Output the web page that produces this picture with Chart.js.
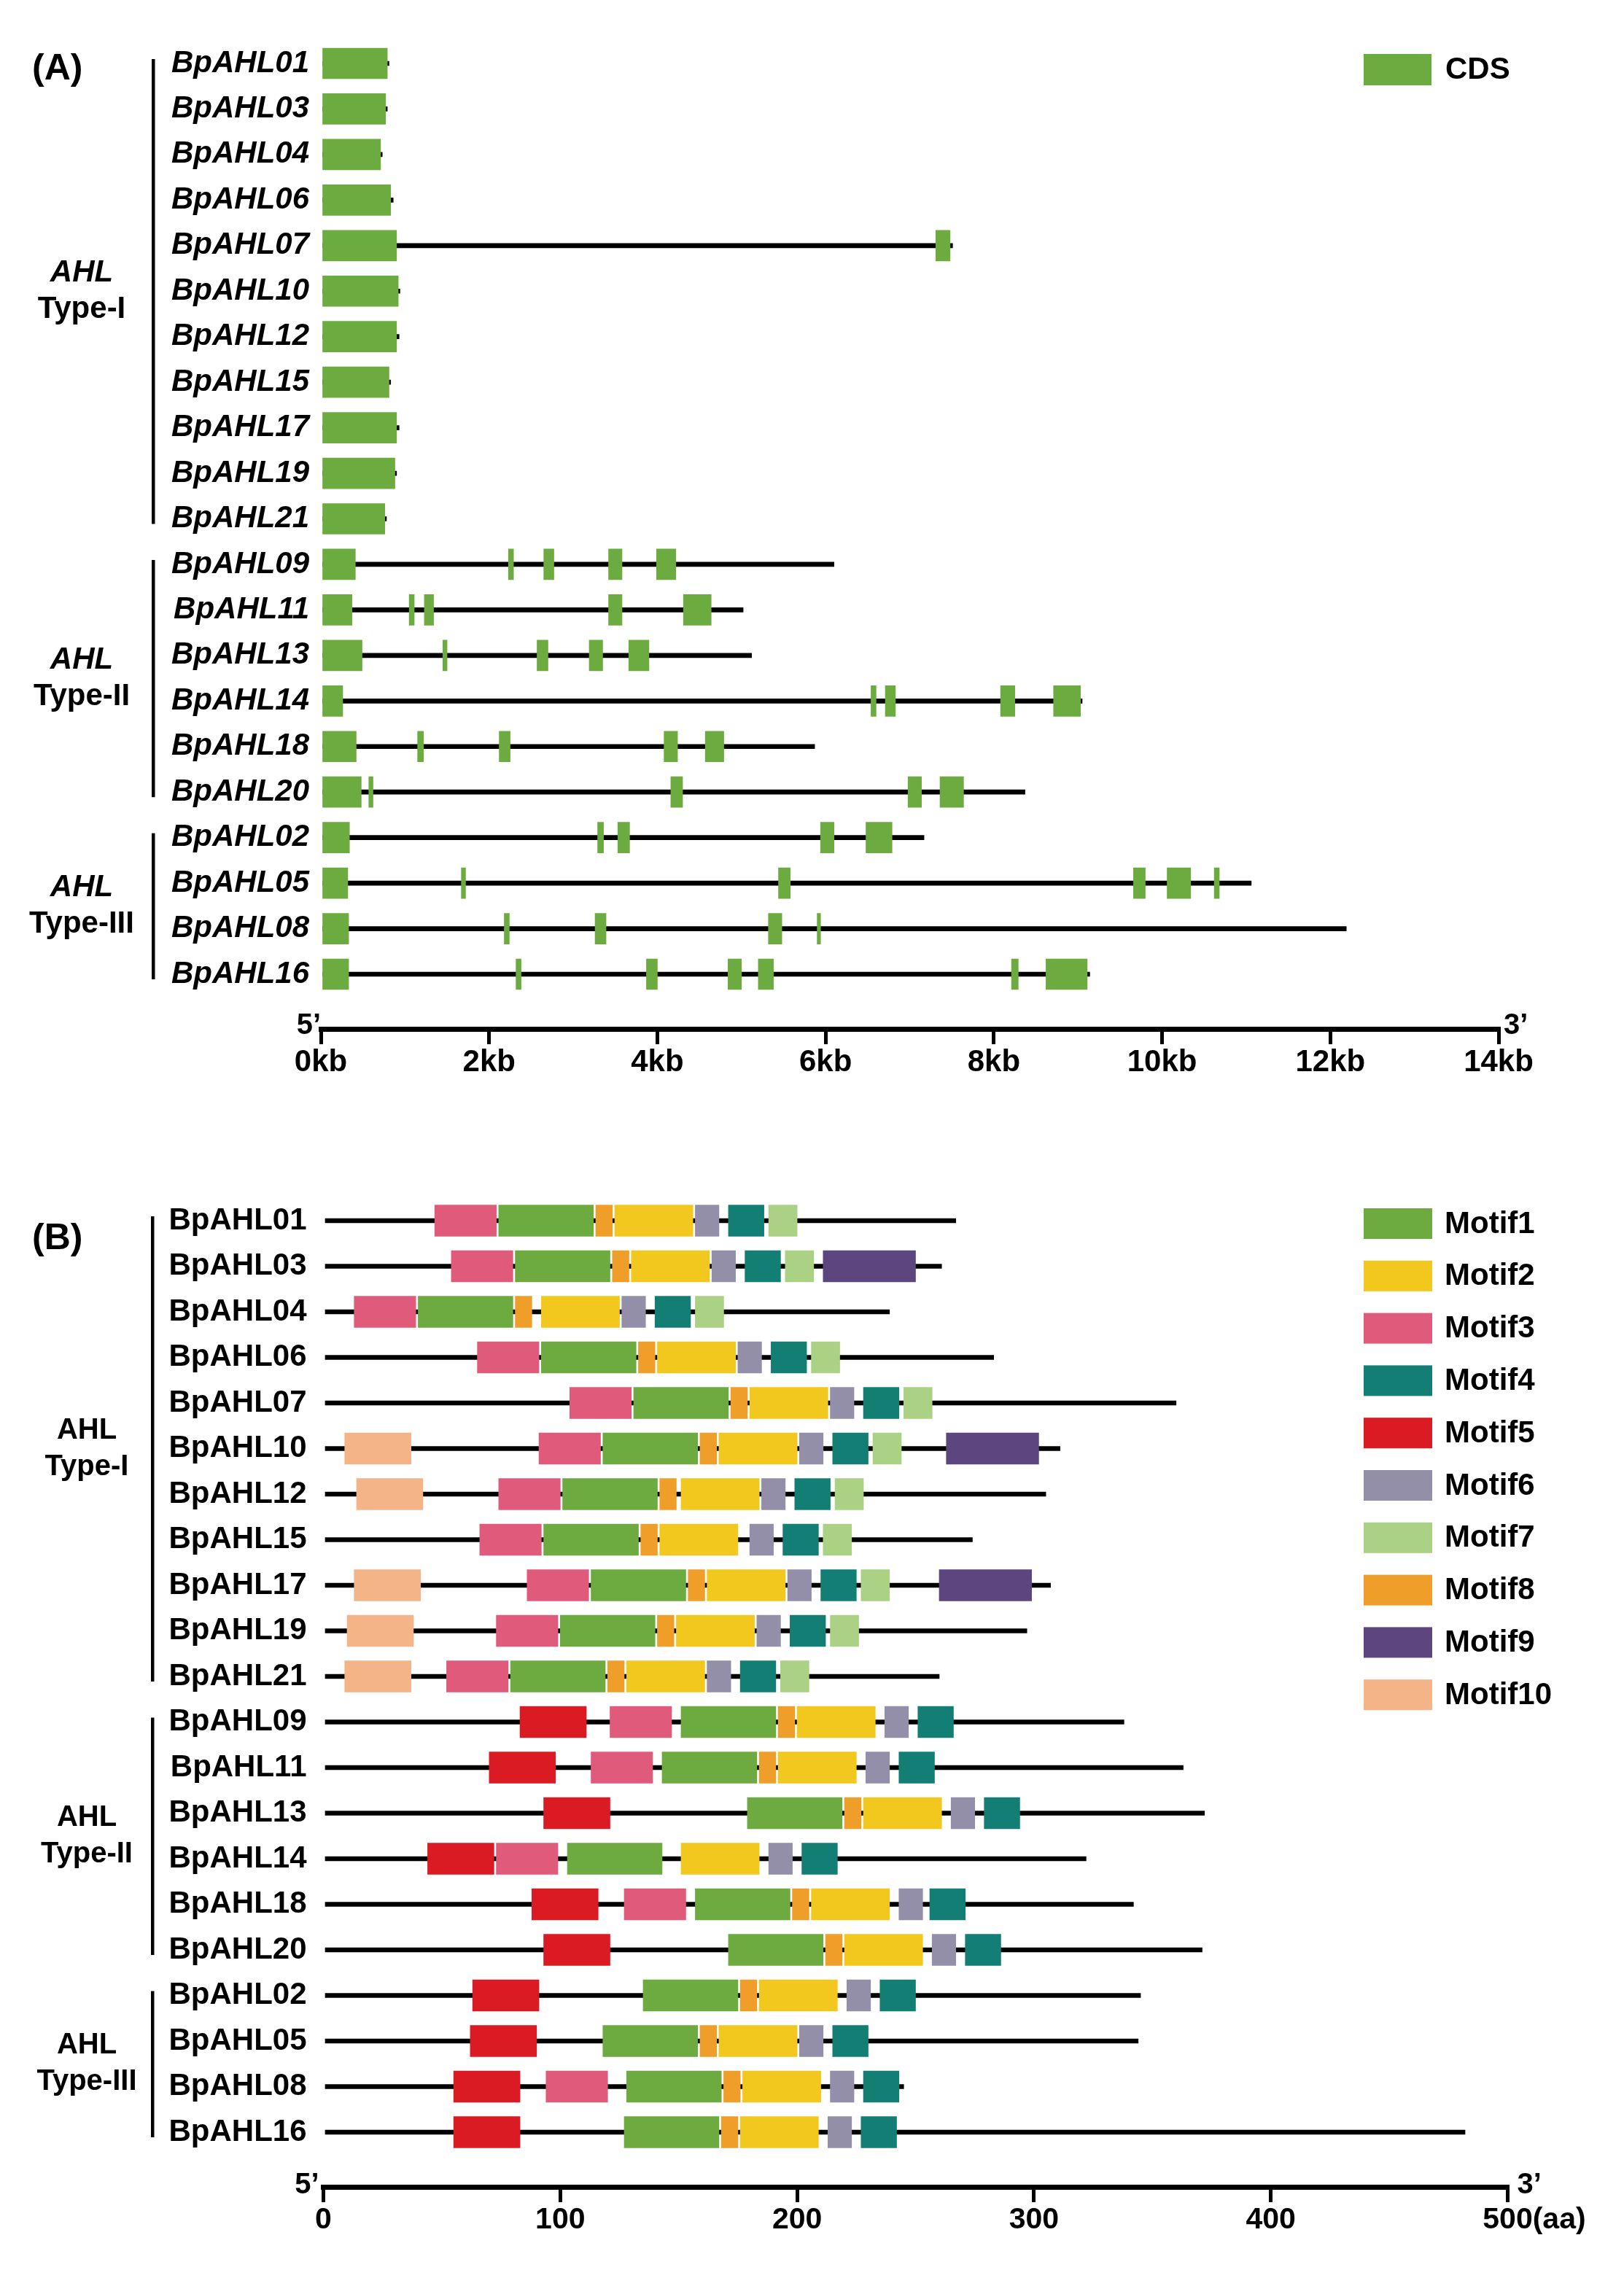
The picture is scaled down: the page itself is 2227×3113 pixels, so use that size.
<!DOCTYPE html>
<html>
<head>
<meta charset="utf-8">
<script src="https://cdn.jsdelivr.net/npm/chart.js@4.4.0/dist/chart.umd.min.js"></script>
<style>
  html, body { margin: 0; padding: 0; background: #fff; }
  body { width: 2227px; height: 3113px; position: relative; overflow: hidden; }
  canvas { position: absolute; left: 0; }
  #chartA { top: 0; }
  #chartB { top: 1540px; }
</style>
</head>
<body>
<canvas id="chartA" width="2227" height="1540" style="width:2227px;height:1540px"></canvas>
<canvas id="chartB" width="2227" height="1573" style="width:2227px;height:1573px"></canvas>
<script>
// genes, same order in both panels
const genes = ["BpAHL01", "BpAHL03", "BpAHL04", "BpAHL06", "BpAHL07", "BpAHL10", "BpAHL12", "BpAHL15",
  "BpAHL17", "BpAHL19", "BpAHL21", "BpAHL09", "BpAHL11", "BpAHL13", "BpAHL14", "BpAHL18", "BpAHL20",
  "BpAHL02", "BpAHL05", "BpAHL08", "BpAHL16"];
const groupNames = ["Type-I", "Type-II", "Type-III"];
const groupFirst = [0, 11, 17];
const groupLast = [10, 16, 20];

// (A) gene length and CDS positions (kb)
const geneLenKb = [0.81, 0.79, 0.73, 0.86, 7.51, 0.94, 0.93, 0.83, 0.93, 0.90, 0.78,
  6.10, 5.02, 5.12, 9.05, 5.87, 8.37, 7.17, 11.06, 12.19, 9.14];
const cdsKb = [
  [[0, 0.79]],
  [[0, 0.77]],
  [[0, 0.71]],
  [[0, 0.83]],
  [[0, 0.90], [7.31, 7.48]],
  [[0, 0.92]],
  [[0, 0.90]],
  [[0, 0.81]],
  [[0, 0.90]],
  [[0, 0.88]],
  [[0, 0.76]],
  [[0, 0.41], [2.23, 2.29], [2.65, 2.77], [3.42, 3.58], [3.99, 4.22]],
  [[0, 0.37], [1.05, 1.11], [1.23, 1.34], [3.42, 3.58], [4.31, 4.64]],
  [[0, 0.49], [1.45, 1.50], [2.57, 2.70], [3.19, 3.35], [3.66, 3.90]],
  [[0, 0.26], [6.54, 6.60], [6.71, 6.83], [8.08, 8.25], [8.71, 9.03]],
  [[0, 0.42], [1.15, 1.22], [2.12, 2.25], [4.08, 4.24], [4.57, 4.79]],
  [[0, 0.48], [0.57, 0.62], [4.16, 4.30], [6.98, 7.14], [7.36, 7.64]],
  [[0, 0.34], [3.29, 3.36], [3.53, 3.67], [5.94, 6.10], [6.48, 6.79]],
  [[0, 0.32], [1.67, 1.72], [5.44, 5.58], [9.66, 9.80], [10.06, 10.34], [10.62, 10.68]],
  [[0, 0.33], [2.18, 2.24], [3.26, 3.39], [5.32, 5.48], [5.90, 5.94]],
  [[0, 0.33], [2.32, 2.38], [3.87, 4.00], [4.84, 5.00], [5.20, 5.38], [8.21, 8.29], [8.62, 9.11]]
];
const kbTicks = [0, 2, 4, 6, 8, 10, 12, 14];

// (B) protein length and motif start positions (aa)
const proteinLen = [267, 261, 239, 283, 360, 311, 305, 274, 307, 297, 260,
  338, 363, 372, 322, 342, 371, 345, 344, 245, 482];
const motifNames = ["Motif1", "Motif2", "Motif3", "Motif4", "Motif5", "Motif6", "Motif7", "Motif8", "Motif9", "Motif10"];
const motifWidth = [40, 33, 26, 15, 28, 10, 12, 7, 39, 28];
const motif1Start = [74, 81, 40, 92, 131, 118, 101, 93, 113, 100, 79, 151, 143, 179, 103, 157, 171, 135, 118, 128, 127];
const motif2Start = [123, 130, 92, 141, 180, 167, 151, 142, 162, 149, 128, 200, 192, 228, 151, 206, 220, 184, 167, 177, 176];
const motif3Start = [47, 54, 13, 65, 104, 91, 74, 66, 86, 73, 52, 121, 113, null, 73, 127, null, null, null, 94, null];
const motif4Start = [171, 178, 140, 189, 228, 215, 199, 194, 210, 197, 176, 251, 243, 279, 202, 256, 271, 235, 215, 228, 227];
const motif5Start = [null, null, null, null, null, null, null, null, null, null, null, 83, 70, 93, 44, 88, 93, 63, 62, 55, 55];
const motif6Start = [157, 164, 126, 175, 214, 201, 185, 180, 196, 183, 162, 237, 229, 265, 188, 243, 257, 221, 201, 214, 213];
const motif7Start = [188, 195, 157, 206, 245, 232, 216, 211, 227, 214, 193, null, null, null, null, null, null, null, null, null, null];
const motif8Start = [115, 122, 81, 133, 172, 159, 142, 134, 154, 141, 120, 192, 184, 220, null, 198, 212, 176, 159, 169, 168];
const motif9Start = [null, 211, null, null, null, 263, null, null, 260, null, null, null, null, null, null, null, null, null, null, null, null];
const motif10Start = [null, null, null, null, null, 9, 14, null, 13, 10, 9, null, null, null, null, null, null, null, null, null, null];
const aaTicks = [0, 100, 200, 300, 400, 500];

const motifStarts = [motif1Start, motif2Start, motif3Start, motif4Start, motif5Start,
  motif6Start, motif7Start, motif8Start, motif9Start, motif10Start];
const motifColors = ["#6dab41", "#f2c81e", "#e05b7b", "#137f74", "#db1b24",
  "#938fa9", "#aad184", "#ef9f29", "#5d4580", "#f5b487"];
const cdsColor = "#6cab3f";

const FONT = '"Liberation Sans", Arial, Helvetica, sans-serif';
Chart.defaults.font.family = FONT;
Chart.defaults.color = "#000";

// y scale: linear, one row per gene, row -1 near the top edge
function rowAxis(width, pad, style) {
  return {
    type: "linear", reverse: true, min: -1, max: 21.2, offset: false,
    afterFit: (s) => { s.width = width; s.paddingTop = 0; s.paddingBottom = 0; },
    grid: { display: false, drawTicks: false, offset: false },
    border: { display: false },
    ticks: {
      stepSize: 1, autoSkip: false, padding: pad, color: "#000",
      font: { size: 42, weight: "bold", style: style },
      callback: (v) => (Number.isInteger(v) && genes[v]) ? genes[v] : ""
    }
  };
}

function bottomAxis(max, step, size, labelFn) {
  return {
    type: "linear", min: 0, max: max,
    afterFit: (s) => { s.height = 80; s.paddingLeft = 0; s.paddingRight = 0; },
    grid: { drawOnChartArea: false, drawTicks: true, tickLength: 21, tickWidth: 5, lineWidth: 5, color: "#000", tickColor: "#000" },
    border: { display: true, color: "#000", width: 7 },
    ticks: { stepSize: step, padding: 0, autoSkip: false, maxRotation: 0, color: "#000",
      font: { size: size, weight: "bold" }, callback: labelFn }
  };
}

// nudge padding and row range so rows and the axis sit where the figure has them
function pinChart(chart, row0, step, axisY, x0, x1, xMax) {
  for (let k = 0; k < 4; k++) {
    const pad = chart.options.layout.padding;
    const xs = chart.scales.x;
    pad.bottom += chart.chartArea.bottom - axisY;
    pad.left += x0 - xs.getPixelForValue(0);
    pad.right += xs.getPixelForValue(xMax) - x1;
    chart.update();
    const ys = chart.scales.y;
    const yo = chart.options.scales.y;
    const p0 = ys.getPixelForValue(0);
    const b = (ys.getPixelForValue(20) - p0) / 20;
    const range = yo.max - yo.min;
    const s = p0 + yo.min * b;
    const newRange = b * range / step;
    yo.min = (s - row0) / step;
    yo.max = yo.min + newRange;
    chart.update();
  }
}

function drawGroups(ctx, y, bracketX, labelX, italic, size) {
  for (let g = 0; g < groupNames.length; g++) {
    const y1 = y.getPixelForValue(groupFirst[g]);
    const y2 = y.getPixelForValue(groupLast[g]);
    ctx.fillRect(bracketX, y1 - 6, 4.5, y2 - y1 + 13);
    const mid = (y1 + y2) / 2;
    ctx.textAlign = "center";
    ctx.font = (italic ? "italic " : "") + "bold " + size + "px " + FONT;
    ctx.fillText("AHL", labelX, mid - 25);
    ctx.font = "bold " + size + "px " + FONT;
    ctx.fillText(groupNames[g], labelX, mid + 25);
  }
}

// ---------- (A) gene structure ----------
const cdsData = [];
cdsKb.forEach((list, i) => list.forEach((e) => cdsData.push({ x: e, y: i })));
const geneLineData = geneLenKb.map((len, i) => ({ x: [0, len], y: i }));

const decorA = {
  id: "decorA",
  afterDraw(chart) {
    const { ctx, chartArea: ca, scales: { y } } = chart;
    ctx.save();
    ctx.fillStyle = "#000";
    ctx.textBaseline = "middle";
    ctx.textAlign = "left";
    ctx.font = "bold 50px " + FONT;
    ctx.fillText("(A)", 44, 95);
    drawGroups(ctx, y, 208, 112, true, 42);
    ctx.font = "bold 40px " + FONT;
    ctx.textAlign = "right";
    ctx.fillText("5\u2019", ca.left, ca.bottom - 4);
    ctx.textAlign = "left";
    ctx.fillText("3\u2019", ca.right + 7, ca.bottom - 4);
    // legend
    ctx.fillStyle = cdsColor;
    ctx.fillRect(1870, 74, 93, 43);
    ctx.fillStyle = "#000";
    ctx.font = "bold 42px " + FONT;
    ctx.fillText("CDS", 1982, 96);
    ctx.restore();
  }
};

const chartA = new Chart(document.getElementById("chartA"), {
  type: "bar",
  data: {
    datasets: [
      { label: "CDS", data: cdsData, backgroundColor: cdsColor, barThickness: 42, borderWidth: 0, order: 0 },
      { label: "gene", data: geneLineData, backgroundColor: "#000", barThickness: 6, borderWidth: 0, order: 1 }
    ]
  },
  options: {
    indexAxis: "y",
    responsive: false,
    maintainAspectRatio: false,
    devicePixelRatio: 1,
    animation: false,
    grouped: false,
    layout: { padding: { left: 0, right: 172, top: 24.55, bottom: 49 } },
    scales: {
      x: bottomAxis(14, 2, 42, (v) => kbTicks.includes(v) ? v + "kb" : ""),
      y: rowAxis(440, 16, "italic")
    },
    plugins: { legend: { display: false }, tooltip: { enabled: false } }
  },
  plugins: [decorA]
});
pinChart(chartA, 87, 62.45, 1411, 440, 2055, 14);

// ---------- (B) conserved motifs ----------
const motifDatasets = motifStarts.map((starts, m) => ({
  label: motifNames[m],
  data: starts.map((s, i) => (s === null ? null : { x: [s, s + motifWidth[m]], y: i })).filter(Boolean),
  backgroundColor: motifColors[m],
  barThickness: 43,
  borderWidth: 0,
  order: 0
}));
const proteinData = proteinLen.map((len, i) => ({ x: [0, len], y: i }));

const decorB = {
  id: "decorB",
  afterDraw(chart) {
    const { ctx, chartArea: ca, scales: { x, y } } = chart;
    ctx.save();
    ctx.fillStyle = "#000";
    ctx.textBaseline = "middle";
    ctx.textAlign = "left";
    ctx.font = "bold 50px " + FONT;
    ctx.fillText("(B)", 44, 159);
    drawGroups(ctx, y, 207, 119, false, 40);
    ctx.font = "bold 40px " + FONT;
    ctx.textAlign = "right";
    ctx.fillText("5\u2019", ca.left - 6, ca.bottom - 2);
    ctx.textAlign = "left";
    ctx.fillText("3\u2019", ca.right + 13, ca.bottom - 2);
    // unit after the last tick label
    ctx.font = "bold 41px " + FONT;
    const w500 = ctx.measureText("500").width;
    ctx.fillText("(aa)", x.getPixelForValue(500) + w500 / 2, ca.bottom + 21 + 25);
    // legend
    ctx.font = "bold 42px " + FONT;
    motifNames.forEach((name, m) => {
      const cy = 138 + 71.8 * m;
      ctx.fillStyle = motifColors[m];
      ctx.fillRect(1870, cy - 21, 94, 42);
      ctx.fillStyle = "#000";
      ctx.fillText(name, 1981, cy + 1);
    });
    ctx.restore();
  }
};

const chartB = new Chart(document.getElementById("chartB"), {
  type: "bar",
  data: {
    datasets: motifDatasets.concat([
      { label: "protein", data: proteinData, backgroundColor: "#000", barThickness: 6, borderWidth: 0, order: 1 }
    ])
  },
  options: {
    indexAxis: "y",
    responsive: false,
    maintainAspectRatio: false,
    devicePixelRatio: 1,
    animation: false,
    grouped: false,
    layout: { padding: { left: 0, right: 159.5, top: 71.5, bottom: 34 } },
    scales: {
      x: bottomAxis(500, 100, 41, (v) => aaTicks.includes(v) ? String(v) : ""),
      y: rowAxis(443.5, 23, "normal")
    },
    plugins: { legend: { display: false }, tooltip: { enabled: false } }
  },
  plugins: [decorB]
});
pinChart(chartB, 134, 62.5, 1459, 443.5, 2067.5, 500);
</script>
</body>
</html>
